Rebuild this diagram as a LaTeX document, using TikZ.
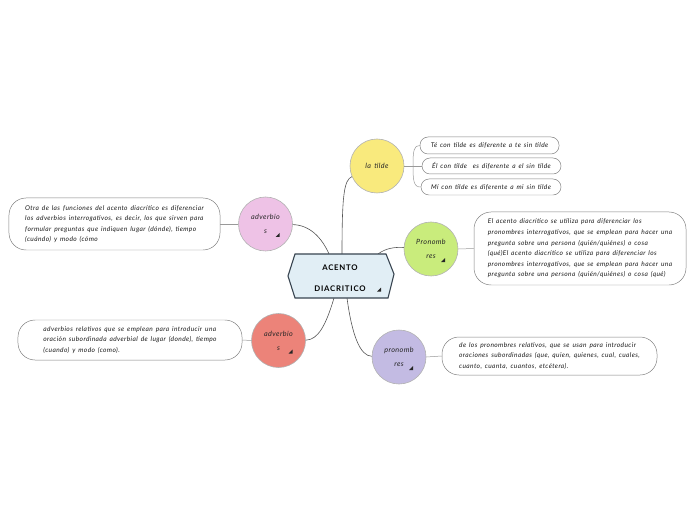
\documentclass[tikz,border=0pt]{standalone}
\usepackage{fontspec}
\setmainfont{Lato}[LetterSpace=6.0,WordSpace=1.5]
\definecolor{cyel}{HTML}{F9EA7D}
\definecolor{cpink}{HTML}{EEC2E6}
\definecolor{cred}{HTML}{EC8379}
\definecolor{cgreen}{HTML}{C9EC7C}
\definecolor{cpurp}{HTML}{C3BBE3}
\definecolor{chex}{HTML}{E1EEF5}
\definecolor{chexb}{HTML}{384450}
\definecolor{cline}{HTML}{555555}
\begin{document}
\begin{tikzpicture}[x=1bp,y=-1bp,
  circ/.style={circle, draw=black!30, line width=0.6pt, minimum size=54bp, inner sep=0pt,
    font=\itshape\fontsize{7.2}{14}\selectfont, align=center, text=black!85},
  sbox/.style={draw=black!50, line width=0.5pt, rounded corners=8bp, align=left,
    inner sep=0pt, font=\itshape\fontsize{6.6}{10.6}\selectfont, text=black!90},
  bbox/.style={sbox, rounded corners=17bp},
  conn/.style={draw=cline, line width=0.6pt},
  leaf/.style={draw=black!40, line width=0.5pt},
  tmark/.style={fill=black!85, draw=none}
]
\useasboundingbox (0,0) rectangle (696,520);

% named anchor points on the hexagon
\coordinate (hA) at (342,254);
\coordinate (hB) at (378,254);
\coordinate (hC) at (329,254);
\coordinate (hD) at (334,298);
\coordinate (hE) at (347,298);

% circles
\node[circ, fill=cyel] (lt) at (377,166) {la tilde};
\node[circ, fill=cgreen] (pr1) at (431,249) {Pronomb\\res};
\node[circ, fill=cpurp] (pr2) at (399,357) {pronomb\\res};
\node[circ, fill=cpink] (ad1) at (265.5,224) {adverbio\\s};
\node[circ, fill=cred] (ad2) at (278.5,340.5) {adverbio\\s};

% boxes
\node[sbox, minimum width=139bp, minimum height=17bp] (t1) at (489.5,145.5)
  {Té con tilde es diferente a te sin tilde};
\node[sbox, minimum width=139bp, minimum height=16bp] (t2) at (491.5,166)
  {Él con tilde \ es diferente a el sin tilde};
\node[sbox, minimum width=140bp, minimum height=16bp] (t3) at (491,187)
  {Mí con tilde es diferente a mi sin tilde};

\node[bbox, minimum width=212bp, minimum height=73bp] (b1) at (580,248.5)
  {El acento diacrítico se utiliza para diferenciar los\\
   pronombres interrogativos, que se emplean para hacer una\\
   pregunta sobre una persona (quién/quiénes) o cosa\\
   (qué)El acento diacrítico se utiliza para diferenciar los\\
   pronombres interrogativos, que se emplean para hacer una\\
   pregunta sobre una persona (quién/quiénes) o cosa (qué)};

\node[bbox, minimum width=215bp, minimum height=38bp] (b2) at (549.5,356)
  {de los pronombres relativos, que se usan para introducir\\
   oraciones subordinadas (que, quien, quienes, cual, cuales,\\
   cuanto, cuanta, cuantos, etcétera).};

\node[bbox, minimum width=211bp, minimum height=52bp] (b3) at (114.5,224)
  {Otra de las funciones del acento diacrítico es diferenciar\\
   los adverbios interrogativos, es decir, los que sirven para\\
   formular preguntas que indiquen lugar (dónde), tiempo\\
   (cuándo) y modo (cómo};

\node[bbox, minimum width=224bp, minimum height=40bp] (b4) at (130,340)
  {adverbios relativos que se emplean para introducir una\\
   oración subordinada adverbial de lugar (donde), tiempo\\
   (cuando) y modo (como).};

% connectors from centre
\path[conn] (hA) .. controls (342,195) and (344,180) .. (lt);
\path[conn] (hB) .. controls (386,248) and (395,247) .. (pr1);
\path[conn] (hC) .. controls (322,238) and (310,225) .. (ad1);
\path[conn] (hD) .. controls (326,325) and (318,340) .. (ad2);
\path[conn] (hE) .. controls (352,335) and (360,356) .. (pr2);

% leaves
\coordinate (br) at (413,166);
\path[leaf] (lt.east) -- (br);
\path[leaf] (br) .. controls (413,150) and (414,145.5) .. (t1.west);
\path[leaf] (br) -- (t2.west);
\path[leaf] (br) .. controls (413,182) and (414,187) .. (t3.west);
\path[leaf] (pr1.east) -- (b1.west);
\path[leaf] (pr2.east) -- (b2.west);
\path[leaf] (ad1.west) -- (b3.east);
\path[leaf] (ad2.west) -- (b4.east);

% centre hexagon
\draw[fill=chex, draw=chexb, line width=1.1pt, line join=miter]
  (288,276) -- (295,254) -- (386,254) -- (394,274) -- (388,298) -- (295,298) -- cycle;
\node[font=\bfseries\addfontfeature{LetterSpace=10}\fontsize{7.8}{21}\selectfont, align=center, inner sep=0pt] (title) at (340,278.5)
  {ACENTO\\DIACRITICO};

% small triangle markers
\foreach \p in {(pr1.center),(pr2.center),(ad1.center),(ad2.center)} {
  \path[tmark] \p ++(10,13) -- ++(4,0) -- ++(0,-4) -- cycle;
}
\path[tmark] (377,291.5) -- ++(4,0) -- ++(0,-4) -- cycle;
\end{tikzpicture}
\end{document}
